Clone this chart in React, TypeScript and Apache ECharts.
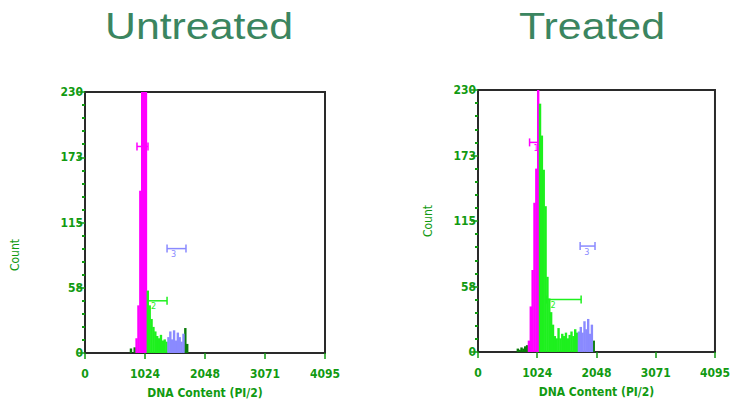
import React, { useEffect, useRef } from "react";
import * as echarts from "echarts";

const titles = ["Untreated", "Treated"];
const xTickLabels = ["0", "1024", "2048", "3071", "4095"];
const yTickLabels = ["0", "58", "115", "173", "230"];
const xAxisName = "DNA Content (PI/2)";
const yAxisName = "Count";

// histogram bins: [channel, count]
const untreatedG1 = [[880, 13], [912, 42], [944, 143], [976, 400], [1008, 420], [1040, 380]];
const untreatedS = [[1072, 55], [1104, 42], [1136, 30], [1168, 23], [1200, 19], [1232, 15], [1264, 13], [1296, 16], [1328, 11], [1360, 12], [1392, 10]];
const untreatedG2 = [[1424, 14], [1456, 19], [1488, 12], [1520, 20], [1552, 11], [1584, 18], [1616, 14], [1648, 10], [1680, 17]];
const untreatedOut = [[784, 4], [848, 5], [1712, 22], [1744, 8]];

const treatedG1 = [[880, 10], [912, 40], [944, 72], [976, 131], [1008, 161], [1040, 400]];
const treatedS = [[1072, 218], [1104, 190], [1136, 160], [1168, 128], [1200, 66], [1232, 47], [1264, 35], [1296, 24], [1328, 14], [1360, 12], [1392, 21], [1424, 12], [1456, 16], [1488, 14], [1520, 17], [1552, 12], [1584, 15], [1616, 18], [1648, 14], [1680, 20], [1712, 17]];
const treatedG2 = [[1744, 18], [1776, 22], [1808, 17], [1840, 27], [1872, 20], [1904, 29], [1936, 16], [1968, 24]];
const treatedOut = [[688, 3], [720, 2], [752, 4], [784, 3], [816, 5], [848, 6], [2000, 10]];

// gate markers: [start channel, end channel, count level]
const untreatedMarkers = [[887, 1075, 182], [1058, 1400, 46], [1400, 1723, 92]];
const treatedMarkers = [[891, 1079, 184], [1182, 1782, 46], [1765, 2022, 93]];
const markerLabels = ["1", "2", "3"];

const COLORS = { g1: "#ff00ff", s: "#1ef01e", g2: "#8a8aff", out: "#0a7d0a" };
const markerColors = [COLORS.g1, COLORS.s, COLORS.g2];
const AXIS_GREEN = "#119a11";
const TITLE_COLOR = "#3b8560";
const SMALL_FONT = "'Liberation Sans Narrow', 'DejaVu Sans Condensed', 'Liberation Sans', sans-serif";

const grids = [
  { left: 85, top: 92, width: 240, height: 261 },
  { left: 478, top: 90, width: 239, height: 262 },
];

const datasets = [
  { g1: untreatedG1, s: untreatedS, g2: untreatedG2, out: untreatedOut, markers: untreatedMarkers },
  { g1: treatedG1, s: treatedS, g2: treatedG2, out: treatedOut, markers: treatedMarkers },
];

export default function App() {
  const ref = useRef<HTMLDivElement>(null);
  useEffect(() => {
    if (!ref.current) return;
    const chart = echarts.init(ref.current, undefined, { renderer: "svg" });

    const xAxes = grids.map((_, i) => ({
      type: "value",
      gridIndex: i,
      min: 0,
      max: 4095,
      interval: 1023.75,
      name: xAxisName,
      nameLocation: "middle",
      nameGap: 34,
      nameTextStyle: { color: AXIS_GREEN, fontSize: 12, fontWeight: "bold", fontFamily: SMALL_FONT },
      axisLine: { show: true, lineStyle: { color: "#2a2a2a", width: 2 } },
      axisTick: { show: true, length: 6, lineStyle: { color: AXIS_GREEN, width: 1.5 } },
      axisLabel: {
        color: AXIS_GREEN,
        fontSize: 12,
        fontWeight: "bold",
        fontFamily: SMALL_FONT,
        margin: 15,
        showMinLabel: true,
        showMaxLabel: true,
        formatter: (_v: number, idx: number) => xTickLabels[idx] ?? "",
      },
      splitLine: { show: false },
    }));

    const yAxes = grids.map((_, i) => ({
      type: "value",
      gridIndex: i,
      min: 0,
      max: 230,
      interval: 57.5,
      axisLine: { show: true, lineStyle: { color: "#2a2a2a", width: 2 } },
      axisTick: { show: true, length: 7, lineStyle: { color: AXIS_GREEN, width: 1.5 } },
      minorTick: { show: true, splitNumber: 5, length: 3, lineStyle: { color: AXIS_GREEN, width: 2 } },
      axisLabel: {
        color: AXIS_GREEN,
        fontSize: 12,
        fontWeight: "bold",
        fontFamily: SMALL_FONT,
        margin: 2,
        showMinLabel: true,
        showMaxLabel: true,
        formatter: (_v: number, idx: number) => yTickLabels[idx] ?? "",
      },
      splitLine: { show: false },
      minorSplitLine: { show: false },
    }));

    const series: any[] = [];
    datasets.forEach((d, i) => {
      (["out", "g1", "s", "g2"] as const).forEach((k) => {
        series.push({
          type: "bar",
          xAxisIndex: i,
          yAxisIndex: i,
          data: d[k],
          barWidth: 2.4,
          barGap: "-100%",
          clip: true,
          itemStyle: { color: (COLORS as any)[k] },
          silent: true,
        });
      });
      series.push({
        type: "custom",
        xAxisIndex: i,
        yAxisIndex: i,
        data: d.markers,
        encode: { x: [0, 1], y: 2 },
        clip: false,
        renderItem: (params: any, api: any) => {
          const p0 = api.coord([api.value(0), api.value(2)]);
          const p1 = api.coord([api.value(1), api.value(2)]);
          const color = markerColors[params.dataIndex];
          const st = { stroke: color, lineWidth: 1.5 };
          return {
            type: "group",
            children: [
              { type: "line", shape: { x1: p0[0], y1: p0[1], x2: p1[0], y2: p1[1] }, style: st },
              { type: "line", shape: { x1: p0[0], y1: p0[1] - 4, x2: p0[0], y2: p0[1] + 4 }, style: st },
              { type: "line", shape: { x1: p1[0], y1: p1[1] - 4, x2: p1[0], y2: p1[1] + 4 }, style: st },
              {
                type: "text",
                style: {
                  text: markerLabels[params.dataIndex],
                  x: p0[0] + 4,
                  y: p0[1] + 1,
                  fill: color,
                  fontSize: 9,
                  fontFamily: SMALL_FONT,
                  align: "left",
                  verticalAlign: "top",
                },
              },
            ],
          };
        },
      });
    });

    const graphic: any[] = [
      {
        type: "text",
        x: 199,
        y: 26,
        scaleX: 1.19,
        style: { text: titles[0], x: 0, y: 0, fill: TITLE_COLOR, fontSize: 36, fontFamily: "'Liberation Sans', Arial, sans-serif", align: "center", verticalAlign: "middle" },
      },
      {
        type: "text",
        x: 592,
        y: 26,
        scaleX: 1.19,
        style: { text: titles[1], x: 0, y: 0, fill: TITLE_COLOR, fontSize: 36, fontFamily: "'Liberation Sans', Arial, sans-serif", align: "center", verticalAlign: "middle" },
      },
      {
        type: "text",
        x: 15,
        y: 255,
        rotation: Math.PI / 2,
        style: { text: yAxisName, x: 0, y: 0, fill: AXIS_GREEN, fontSize: 12, fontFamily: SMALL_FONT, align: "center", verticalAlign: "middle" },
      },
      {
        type: "text",
        x: 428,
        y: 221,
        rotation: Math.PI / 2,
        style: { text: yAxisName, x: 0, y: 0, fill: AXIS_GREEN, fontSize: 12, fontFamily: SMALL_FONT, align: "center", verticalAlign: "middle" },
      },
    ];

    chart.setOption({
      animation: false,
      backgroundColor: "#ffffff",
      grid: grids.map((g) => ({ ...g, show: true, borderColor: "#2a2a2a", borderWidth: 2, backgroundColor: "transparent" })),
      xAxis: xAxes,
      yAxis: yAxes,
      series,
      graphic,
    });

    return () => chart.dispose();
  }, []);

  return <div ref={ref} style={{ position: "fixed", left: 0, top: 0, width: 733, height: 409 }} />;
}
